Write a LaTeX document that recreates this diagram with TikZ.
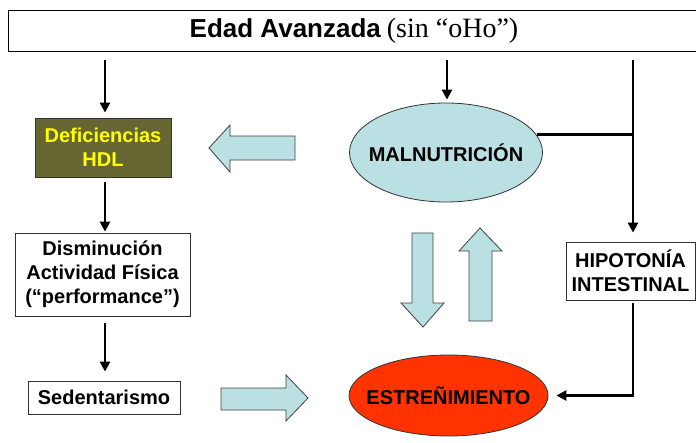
\documentclass[tikz,border=0pt]{standalone}
\usepackage{fontspec}
\setmainfont{Liberation Sans}
\newfontfamily\serifpart{Liberation Serif}
\usetikzlibrary{arrows.meta,shapes.geometric}
\definecolor{olivebox}{HTML}{666633}
\definecolor{lightcyan}{HTML}{BBE0E3}
\definecolor{redorange}{HTML}{FF3300}
\definecolor{yel}{HTML}{FFFF00}
\tikzset{
  txt/.style={font=\fontsize{20}{24}\selectfont\bfseries},
  box/.style={draw=black!80, line width=0.8pt, fill=white, align=center, inner sep=0pt, txt},
  oval/.style={ellipse, draw=black!80, line width=0.8pt, inner sep=0pt},
  conn/.style={line width=2.8pt, -{Triangle[length=10pt,width=10pt]}},
  plain/.style={line width=2.8pt},
  blockarrow/.style={draw=black!75, line width=0.8pt, fill=lightcyan, line join=miter}
}
\begin{document}
\begin{tikzpicture}[x=1pt,y=-1pt]
\useasboundingbox (0,0) rectangle (696,442);
% title
\node[draw=black, line width=0.8pt, minimum width=692pt, minimum height=41pt, inner sep=0pt]
  (title) at (354,30.5) {{\fontsize{26}{28}\selectfont\bfseries Edad Avanzada}\hspace{6pt}{\serifpart\fontsize{28}{28}\selectfont (sin “oHo”)}};
% nodes
\node[box, fill=olivebox, text=yel, minimum width=136pt, minimum height=59pt] (def) at (103,147.5) {Deficiencias\\HDL};
\node[box, minimum width=175pt, minimum height=83pt] (dis) at (102.5,274.5) {Disminución\\Actividad Física\\(“performance”)};
\node[box, minimum width=152pt, minimum height=33pt] (sed) at (104,397.5) {Sedentarismo};
\node[oval, fill=lightcyan, minimum width=193pt, minimum height=99pt,
  label={[txt]center:MALNUTRICIÓN}] (mal) at (446,152.5) {};
\node[oval, fill=redorange, minimum width=199pt, minimum height=81pt,
  label={[txt]center:ESTREÑIMIENTO}] (est) at (448.5,395.5) {};
\node[box, minimum width=129pt, minimum height=58pt] (hip) at (630.5,271) {HIPOTONÍA\\INTESTINAL};
% free start points under the title
\coordinate (t1) at (105,60);
\coordinate (t2) at (447,60);
\coordinate (t3) at (633,60);
% connectors
\draw[conn, shorten >=5pt] (t1) -- (t1 |- def.north);
\draw[conn, shorten >=3pt] (t2) -- (t2 |- mal.north);
\draw[conn, shorten >=9pt] (t3) -- (t3 |- hip.north);
\draw[plain] (mal.11) -- (mal.11 -| t3);
\draw[conn, shorten <=5pt, shorten >=1pt] (def.south -| t1) -- (dis.north -| t1);
\draw[conn, shorten <=7pt, shorten >=9pt] (dis.south -| t1) -- (sed.north -| t1);
\draw[conn, shorten <=3pt, shorten >=8pt] (hip.south -| t3) |- (est.east);
% block arrows
\draw[blockarrow] (209,148) -- (230,125) -- (230,136) -- (295,136) -- (295,160) -- (230,160) -- (230,172) -- cycle;
\draw[blockarrow] (308,398) -- (286,375) -- (286,388) -- (221,388) -- (221,410) -- (286,410) -- (286,421) -- cycle;
\draw[blockarrow] (423,327) -- (401,303) -- (412,303) -- (412,233) -- (433,233) -- (433,303) -- (444,303) -- cycle;
\draw[blockarrow] (480,228) -- (459,251) -- (469,251) -- (469,321) -- (492,321) -- (492,251) -- (502,251) -- cycle;
\end{tikzpicture}
\end{document}
